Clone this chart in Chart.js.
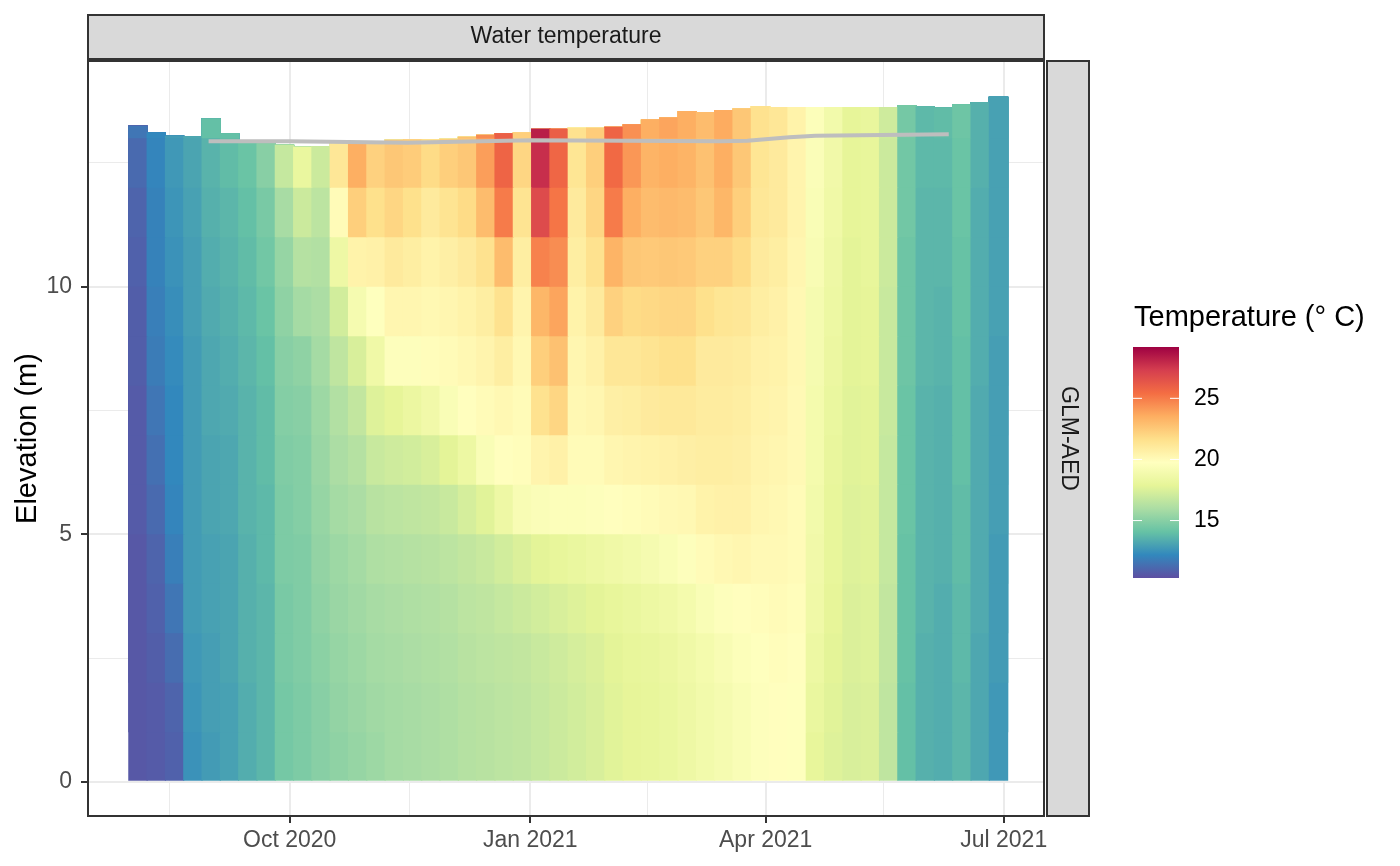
<!DOCTYPE html>
<html lang="en">
<head>
<meta charset="UTF-8">
<title>Water temperature - GLM-AED</title>
<style>
    body { margin: 0; background: #fff; }
    canvas { display: block; }
</style>
</head>
<body>
<canvas id="heatChart" width="1400" height="866"></canvas>

<script src="https://cdn.jsdelivr.net/npm/chart.js"></script>
<script>
    // centre date of each (weekly) model column
    const colDates = [
        '2020-08-04','2020-08-11','2020-08-18','2020-08-25','2020-09-01','2020-09-08','2020-09-15','2020-09-22',
        '2020-09-29','2020-10-06','2020-10-13','2020-10-20','2020-10-27','2020-11-03','2020-11-10','2020-11-17',
        '2020-11-24','2020-12-01','2020-12-08','2020-12-15','2020-12-22','2020-12-29','2021-01-05','2021-01-12',
        '2021-01-19','2021-01-26','2021-02-02','2021-02-09','2021-02-16','2021-02-23','2021-03-02','2021-03-09',
        '2021-03-16','2021-03-23','2021-03-30','2021-04-06','2021-04-13','2021-04-20','2021-04-27','2021-05-04',
        '2021-05-11','2021-05-18','2021-05-25','2021-06-01','2021-06-08','2021-06-15','2021-06-22','2021-06-29'
    ];

    // modelled water surface elevation (m) per column
    const surfaceLevel = [
        13.25, 13.12, 13.05, 13.04, 13.40, 13.10, 12.95, 12.90,
        12.87, 12.83, 12.84, 12.90, 12.93, 12.93, 12.97, 12.98,
        12.98, 12.99, 13.03, 13.07, 13.10, 13.12, 13.19, 13.19,
        13.21, 13.21, 13.23, 13.28, 13.38, 13.42, 13.55, 13.53,
        13.57, 13.60, 13.65, 13.63, 13.63, 13.63, 13.63, 13.63,
        13.63, 13.63, 13.67, 13.64, 13.62, 13.68, 13.73, 13.84
    ];

    // bottom elevation (m) of each layer; the top layer runs up to the surface
    const layerBottoms = [0, 1, 2, 3, 4, 5, 6, 7, 8, 9, 10, 11, 12, 13];

    // water temperature (deg C), one array per layer, one value per column
    const temp00 = [10.6, 10.7, 10.9, 12.5, 12.8, 13.0, 13.4, 13.7, 14.5, 14.7, 15.0, 15.2, 15.4, 15.6, 15.8, 15.9,
        16.0, 16.1, 16.3, 16.4, 16.5, 16.6, 16.8, 17.0, 17.2, 17.4, 17.7, 17.9, 18.0, 18.2, 18.5, 18.8,
        19.0, 19.3, 19.6, 19.8, 19.7, 18.0, 17.6, 17.4, 17.5, 16.6, 14.0, 13.5, 13.4, 13.7, 13.2, 12.7];
    const temp01 = [10.6, 10.7, 11.0, 12.6, 12.9, 13.0, 13.4, 13.7, 14.5, 14.7, 15.0, 15.3, 15.5, 15.7, 15.8, 15.9,
        16.0, 16.1, 16.3, 16.4, 16.5, 16.6, 16.8, 17.0, 17.2, 17.4, 17.7, 17.9, 18.0, 18.2, 18.5, 18.8,
        19.0, 19.3, 19.6, 19.8, 19.7, 18.2, 17.7, 17.4, 17.5, 16.6, 14.0, 13.5, 13.4, 13.7, 13.2, 12.7];
    const temp02 = [10.6, 10.8, 11.3, 12.7, 12.9, 13.1, 13.5, 13.7, 14.6, 14.8, 15.1, 15.4, 15.6, 15.8, 15.9, 16.0,
        16.1, 16.2, 16.4, 16.5, 16.6, 16.7, 16.9, 17.1, 17.3, 17.5, 17.8, 18.0, 18.1, 18.3, 18.6, 18.9,
        19.2, 19.5, 19.7, 19.9, 19.8, 18.4, 17.8, 17.5, 17.6, 16.7, 14.1, 13.5, 13.4, 13.8, 13.2, 12.8];
    const temp03 = [10.6, 10.9, 11.6, 12.8, 13.0, 13.1, 13.5, 13.7, 14.6, 14.8, 15.2, 15.5, 15.7, 15.9, 16.0, 16.1,
        16.2, 16.3, 16.5, 16.6, 16.8, 17.0, 17.2, 17.4, 17.6, 17.8, 18.0, 18.2, 18.4, 18.6, 18.9, 19.3,
        19.6, 19.8, 19.9, 20.0, 19.9, 18.6, 17.9, 17.5, 17.6, 16.7, 14.1, 13.6, 13.4, 13.8, 13.3, 12.8];
    const temp04 = [10.6, 11.0, 11.9, 12.8, 13.0, 13.1, 13.5, 13.8, 14.7, 14.8, 15.3, 15.6, 15.8, 16.1, 16.2, 16.3,
        16.4, 16.5, 16.7, 16.9, 17.2, 17.5, 17.8, 18.0, 18.2, 18.4, 18.6, 18.8, 19.0, 19.3, 19.6, 20.0,
        20.2, 20.3, 20.1, 20.1, 20.0, 18.7, 18.0, 17.6, 17.7, 16.8, 14.1, 13.6, 13.5, 13.9, 13.3, 12.8];
    const temp05 = [10.7, 11.2, 12.1, 12.8, 13.1, 13.2, 13.6, 13.8, 14.7, 14.9, 15.4, 15.8, 16.0, 16.4, 16.5, 16.6,
        16.7, 16.9, 17.3, 17.7, 18.5, 19.2, 19.4, 19.5, 19.5, 19.6, 19.8, 19.9, 20.0, 20.1, 20.2, 20.5,
        20.6, 20.6, 20.3, 20.2, 20.0, 18.8, 18.0, 17.6, 17.7, 16.8, 14.2, 13.6, 13.5, 13.9, 13.3, 12.9];
    const temp06 = [10.7, 11.4, 12.2, 12.8, 13.1, 13.2, 13.6, 13.9, 14.8, 14.9, 15.5, 16.0, 16.3, 16.9, 17.1, 17.2,
        17.4, 17.8, 18.4, 19.3, 19.8, 19.9, 20.4, 20.6, 20.0, 20.0, 20.3, 20.4, 20.5, 20.6, 20.7, 20.8,
        20.8, 20.7, 20.4, 20.3, 20.1, 18.9, 18.1, 17.7, 17.8, 16.8, 14.2, 13.6, 13.5, 14.0, 13.3, 12.9];
    const temp07 = [10.7, 11.6, 12.2, 12.8, 13.2, 13.3, 13.6, 13.9, 14.9, 15.0, 15.6, 16.2, 16.7, 17.6, 17.9, 18.3,
        18.7, 19.3, 19.8, 20.0, 20.2, 20.0, 21.5, 22.0, 20.2, 20.3, 20.7, 20.8, 21.0, 21.1, 21.1, 20.9,
        20.9, 20.8, 20.5, 20.4, 20.1, 18.9, 18.2, 17.7, 17.8, 16.9, 14.2, 13.6, 13.5, 14.0, 13.3, 12.9];
    const temp08 = [10.8, 11.8, 12.3, 12.8, 13.2, 13.4, 13.7, 14.0, 15.0, 15.2, 15.8, 16.6, 17.4, 18.6, 19.6, 19.6,
        19.9, 20.0, 20.2, 20.4, 20.8, 20.2, 22.3, 22.8, 20.3, 20.6, 21.2, 21.2, 21.4, 21.6, 21.6, 21.0,
        21.0, 20.9, 20.6, 20.5, 20.2, 19.0, 18.3, 17.8, 17.9, 16.9, 14.3, 13.7, 13.6, 14.0, 13.4, 12.9];
    const temp09 = [10.8, 11.9, 12.4, 12.9, 13.3, 13.5, 13.8, 14.2, 15.2, 15.8, 16.0, 17.2, 19.0, 19.7, 20.3, 20.3,
        20.2, 20.3, 20.5, 20.8, 21.5, 20.4, 23.2, 23.8, 20.5, 21.0, 22.2, 21.8, 21.9, 22.0, 22.0, 21.6,
        21.3, 21.2, 20.8, 20.6, 20.2, 19.0, 18.4, 17.8, 17.9, 16.9, 14.3, 13.7, 13.6, 14.1, 13.4, 13.0];
    const temp10 = [10.9, 12.0, 12.5, 12.9, 13.4, 13.6, 13.9, 14.4, 15.4, 16.3, 16.2, 18.5, 20.5, 20.6, 21.0, 20.8,
        20.5, 20.7, 21.0, 21.5, 23.0, 20.8, 24.8, 24.5, 20.8, 21.5, 23.3, 22.6, 22.5, 22.6, 22.5, 22.2,
        22.2, 21.8, 21.0, 20.8, 20.3, 19.2, 18.5, 17.8, 18.0, 17.0, 14.3, 13.7, 13.7, 14.1, 13.4, 13.0];
    const temp11 = [11.0, 12.0, 12.6, 13.0, 13.5, 13.7, 14.0, 14.6, 15.9, 17.0, 16.5, 20.0, 22.3, 21.6, 22.0, 21.6,
        21.0, 21.4, 21.8, 23.0, 25.0, 21.4, 26.8, 25.2, 21.0, 22.0, 25.0, 23.5, 23.0, 23.1, 23.0, 22.6,
        23.2, 22.3, 21.2, 21.0, 20.4, 19.3, 18.6, 17.9, 18.0, 17.0, 14.4, 13.7, 13.7, 14.2, 13.4, 13.0];
    const temp12 = [11.2, 12.1, 12.7, 13.1, 13.6, 13.9, 14.2, 15.0, 16.8, 18.2, 17.0, 21.2, 23.5, 22.2, 22.6, 22.4,
        21.8, 22.3, 22.6, 24.0, 25.8, 22.0, 27.8, 25.7, 21.3, 22.3, 25.6, 24.2, 23.3, 23.5, 23.3, 22.8,
        23.5, 22.6, 21.3, 21.0, 20.4, 19.4, 18.7, 17.9, 18.0, 17.0, 14.4, 13.8, 13.8, 14.2, 13.5, 13.0];
    const temp13 = [11.6, 12.2, 12.8, 13.2, 14.0, 14.0, 14.3, 15.2, 17.0, 18.5, 17.2, 21.5, 23.8, 22.4, 22.8, 22.6,
        22.0, 22.5, 22.8, 24.5, 26.0, 22.3, 28.3, 26.0, 21.5, 22.4, 25.8, 24.4, 23.5, 23.8, 23.5, 23.0,
        23.6, 22.6, 21.5, 21.2, 20.5, 19.5, 18.8, 17.9, 18.1, 17.1, 14.5, 13.8, 13.9, 14.3, 13.5, 13.0];

    // observed water level (grey line)
    const obsDates = ['2020-08-31','2020-10-01','2020-11-15','2021-01-01','2021-03-15','2021-03-25','2021-04-10','2021-04-20','2021-06-10'];
    const obsLevel = [12.94, 12.94, 12.91, 12.96, 12.94, 12.95, 13.02, 13.05, 13.08];

    // axis breaks
    const xMajorDates = ['2020-10-01','2021-01-01','2021-04-01','2021-07-01'];
    const xMajorLabels = ['Oct 2020','Jan 2021','Apr 2021','Jul 2021'];
    const xMinorDates = ['2020-08-16','2020-11-16','2021-02-15','2021-05-16'];
    const yMajor = [0, 5, 10];
    const yMinor = [2.5, 7.5, 12.5];

    // colour scale
    const tempLimits = [10.3, 29.2];
    const legendBreaks = [15, 20, 25];
    const spectral = ['#5E4FA2','#3288BD','#66C2A5','#ABDDA4','#E6F598','#FFFFBF',
                      '#FEE08B','#FDAE61','#F46D43','#D53E4F','#9E0142'];

    const FONT = '"Liberation Sans", Arial, sans-serif';
    const TEXT_SIZE = 23;
    const TITLE_SIZE = 29;
    Chart.defaults.font.family = FONT;

    const dayNum = s => (Date.parse(s) - Date.parse('2020-01-01')) / 864e5;

    function hexRgb(h) {
        return [1, 3, 5].map(i => parseInt(h.slice(i, i + 2), 16));
    }

    // temperature -> colour along the spectral palette
    function tempColour(t) {
        let f = (t - tempLimits[0]) / (tempLimits[1] - tempLimits[0]);
        f = Math.min(1, Math.max(0, f)) * (spectral.length - 1);
        const i = Math.min(Math.floor(f), spectral.length - 2);
        const u = f - i;
        const a = hexRgb(spectral[i]), b = hexRgb(spectral[i + 1]);
        const c = a.map((v, n) => Math.round(v + (b[n] - v) * u));
        return `rgb(${c[0]},${c[1]},${c[2]})`;
    }

    const layers = [temp00, temp01, temp02, temp03, temp04, temp05, temp06,
                    temp07, temp08, temp09, temp10, temp11, temp12, temp13];

    // one floating-bar dataset per layer, each bar runs from the layer bottom to the surface;
    // the layer above is drawn on top of it (first dataset is drawn last)
    const datasets = [];
    for (let k = layers.length - 1; k >= 0; k--) {
        const pts = [], cols = [];
        colDates.forEach((d, j) => {
            if (surfaceLevel[j] > layerBottoms[k]) {
                pts.push({ x: dayNum(d), y: [layerBottoms[k], surfaceLevel[j]] });
                cols.push(tempColour(layers[k][j]));
            }
        });
        datasets.push({
            type: 'bar',
            stack: 'profile',
            data: pts,
            backgroundColor: cols,
            borderWidth: 0,
            barPercentage: 1.06,
            categoryPercentage: 1
        });
    }

    datasets.push({
        type: 'line',
        order: -1,
        data: obsDates.map((d, i) => ({ x: dayNum(d), y: obsLevel[i] })),
        borderColor: '#BEBEBE',
        borderWidth: 4,
        borderCapStyle: 'butt',
        pointRadius: 0,
        tension: 0
    });

    const xMajor = xMajorDates.map(dayNum);
    const xMinor = xMinorDates.map(dayNum);
    const isXMajor = v => xMajor.some(m => Math.abs(m - v) < 1e-6);
    const isYMajor = v => yMajor.includes(v);

    // panel strips, border and colour bar legend
    const decorations = {
        id: 'decorations',
        beforeDraw(chart) {
            const ctx = chart.ctx;
            ctx.save();
            ctx.fillStyle = '#fff';
            ctx.fillRect(0, 0, chart.width, chart.height);
            ctx.restore();
        },
        afterDraw(chart) {
            const ctx = chart.ctx;
            const a = chart.chartArea;
            ctx.save();

            // panel border
            ctx.strokeStyle = '#333333';
            ctx.lineWidth = 2;
            ctx.strokeRect(a.left, a.top, a.right - a.left, a.bottom - a.top);

            // top strip
            ctx.fillStyle = '#D9D9D9';
            ctx.fillRect(a.left, a.top - 46, a.right - a.left, 44);
            ctx.strokeRect(a.left, a.top - 46, a.right - a.left, 44);
            ctx.fillStyle = '#1A1A1A';
            ctx.font = TEXT_SIZE + 'px ' + FONT;
            ctx.textAlign = 'center';
            ctx.textBaseline = 'middle';
            ctx.fillText('Water temperature', (a.left + a.right) / 2, a.top - 24);

            // right strip
            ctx.fillStyle = '#D9D9D9';
            ctx.fillRect(a.right + 3, a.top, 42, a.bottom - a.top);
            ctx.strokeRect(a.right + 3, a.top, 42, a.bottom - a.top);
            ctx.save();
            ctx.translate(a.right + 24, (a.top + a.bottom) / 2);
            ctx.rotate(Math.PI / 2);
            ctx.fillStyle = '#1A1A1A';
            ctx.fillText('GLM-AED', 0, 0);
            ctx.restore();

            // legend
            const lx = a.right + 89, ly = 347, lw = 46, lh = 231;
            ctx.fillStyle = '#000';
            ctx.font = TITLE_SIZE + 'px ' + FONT;
            ctx.textAlign = 'left';
            ctx.textBaseline = 'alphabetic';
            ctx.fillText('Temperature (\u00B0 C)', lx + 1, 326);

            const g = ctx.createLinearGradient(0, ly + lh, 0, ly);
            spectral.forEach((c, i) => g.addColorStop(i / (spectral.length - 1), c));
            ctx.fillStyle = g;
            ctx.fillRect(lx, ly, lw, lh);

            ctx.strokeStyle = '#fff';
            ctx.lineWidth = 1;
            ctx.font = TEXT_SIZE + 'px ' + FONT;
            ctx.textBaseline = 'middle';
            legendBreaks.forEach(v => {
                const y = ly + lh - (v - tempLimits[0]) / (tempLimits[1] - tempLimits[0]) * lh;
                ctx.beginPath();
                ctx.moveTo(lx, y); ctx.lineTo(lx + 9, y);
                ctx.moveTo(lx + lw - 9, y); ctx.lineTo(lx + lw, y);
                ctx.stroke();
                ctx.fillStyle = '#000';
                ctx.fillText(String(v), lx + lw + 15, y);
            });
            ctx.restore();
        }
    };

    new Chart(document.getElementById('heatChart'), {
        type: 'bar',
        data: { datasets: datasets },
        options: {
            responsive: false,
            devicePixelRatio: 1,
            animation: false,
            layout: { padding: { top: 61, left: 0, right: 356, bottom: 0 } },
            plugins: {
                legend: { display: false },
                tooltip: { enabled: false }
            },
            scales: {
                x: {
                    type: 'linear',
                    min: 196.9,
                    max: 562.4,
                    offset: false,
                    afterFit: s => { s.height = 50; },
                    afterBuildTicks: s => {
                        s.ticks = xMinor.concat(xMajor).sort((p, q) => p - q).map(v => ({ value: v }));
                    },
                    border: { display: false },
                    grid: {
                        offset: false,
                        color: '#EBEBEB',
                        lineWidth: c => isXMajor(c.tick.value) ? 2 : 1,
                        tickLength: 7,
                        tickColor: c => isXMajor(c.tick.value) ? '#333333' : 'rgba(0,0,0,0)',
                        tickWidth: 2
                    },
                    ticks: {
                        autoSkip: false,
                        maxRotation: 0,
                        padding: 4,
                        color: '#4D4D4D',
                        font: { size: TEXT_SIZE },
                        callback: v => {
                            const i = xMajor.findIndex(m => Math.abs(m - v) < 1e-6);
                            return i >= 0 ? xMajorLabels[i] : '';
                        }
                    }
                },
                y: {
                    type: 'linear',
                    min: -0.69,
                    max: 14.56,
                    stacked: false,
                    afterFit: s => { s.width = 88; },
                    afterBuildTicks: s => {
                        s.ticks = yMajor.concat(yMinor).sort((p, q) => p - q).map(v => ({ value: v }));
                    },
                    border: { display: false },
                    grid: {
                        color: '#EBEBEB',
                        lineWidth: c => isYMajor(c.tick.value) ? 2 : 1,
                        tickLength: 7,
                        tickColor: c => isYMajor(c.tick.value) ? '#333333' : 'rgba(0,0,0,0)',
                        tickWidth: 2
                    },
                    ticks: {
                        autoSkip: false,
                        padding: 9,
                        color: '#4D4D4D',
                        font: { size: TEXT_SIZE },
                        callback: v => isYMajor(v) ? String(v) : ''
                    },
                    title: {
                        display: true,
                        text: 'Elevation (m)',
                        color: '#000',
                        font: { size: TITLE_SIZE },
                        padding: { top: 11, bottom: 0 }
                    }
                }
            }
        },
        plugins: [decorations]
    });
</script>
</body>
</html>
